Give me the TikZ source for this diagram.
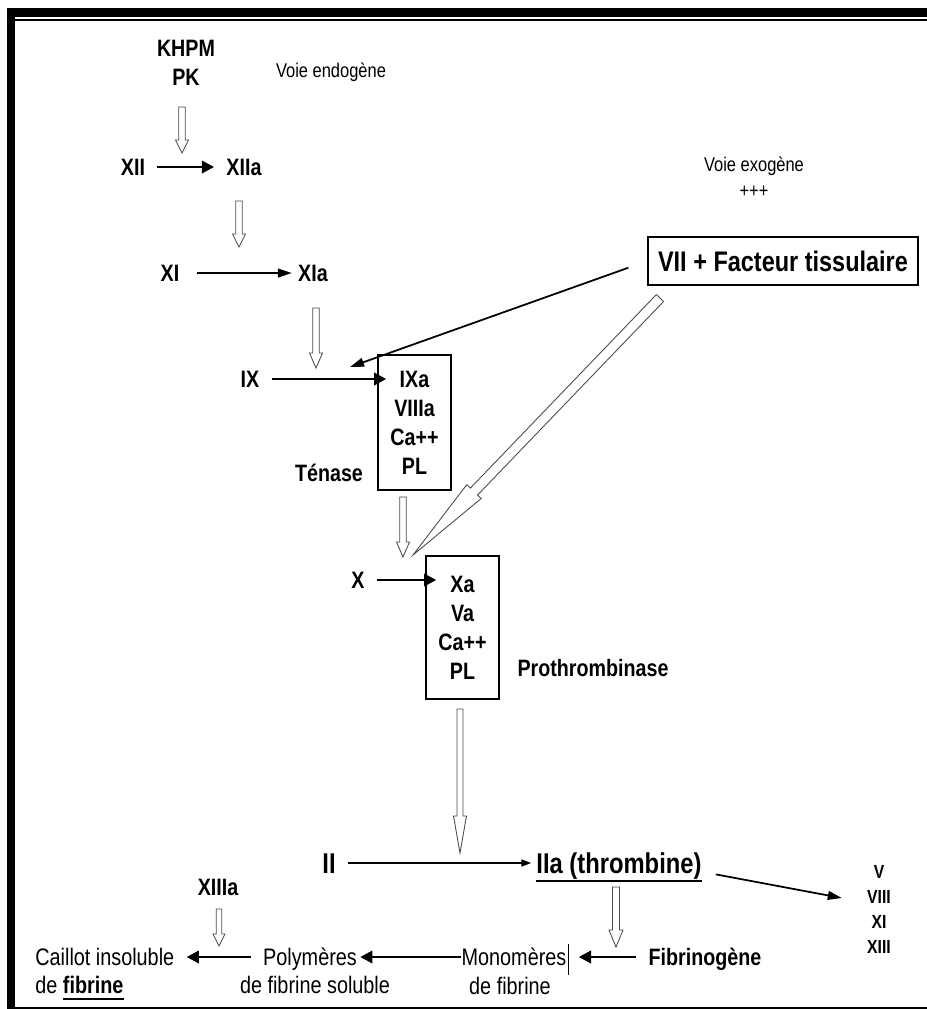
\documentclass[tikz,border=0pt]{standalone}
\usepackage{fontspec}
\setmainfont{Liberation Sans}[FakeStretch=0.83]
\usetikzlibrary{arrows.meta,calc}

\newsavebox\ulbox
\newcommand\thickul[2][4.2pt]{\sbox\ulbox{#2}\rlap{\rule[-#1]{\wd\ulbox}{1.1pt}}\usebox\ulbox}

% hollow arrow: shaft half width, head half width, head length (px), from, to
\newcommand\hollowarrow[5]{%
  \draw[hollow] let \p1=(#4), \p2=(#5),
    \n1={atan2(\y2-\y1,\x2-\x1)}, \n2={veclen(\x2-\x1,\y2-\y1)} in
    [shift={(\p1)}, rotate=\n1]
    (0pt,{-#1*0.569pt}) -- ({\n2-#3*0.569pt},{-#1*0.569pt})
    -- ({\n2-#3*0.569pt},{-#2*0.569pt}) -- ({\n2+0pt},0pt)
    -- ({\n2-#3*0.569pt},{#2*0.569pt}) -- ({\n2-#3*0.569pt},{#1*0.569pt})
    -- (0pt,{#1*0.569pt}) -- cycle;}

\begin{document}
\begin{tikzpicture}[x=0.02cm, y=-0.02cm,
    capht/.style={text height=#1, text depth=0pt},
    lab/.style={font=\fontsize{13.5}{16.5}\selectfont\bfseries, inner sep=0.24cm},
    big/.style={font=\fontsize{16.3}{16}\selectfont\bfseries, inner sep=0.24cm, capht=11.7pt},
    note/.style={font=\fontsize{11.3}{14.8}\selectfont, inner sep=0.24cm},
    txt/.style={font=\fontsize{13.6}{16}\selectfont, inner sep=0.24cm, capht=9.8pt},
    cplx/.style={draw, line width=0.8pt, align=center, minimum width=1.46cm, inner sep=0pt,
      font=\fontsize{13.5}{16.5}\selectfont\bfseries},
    flow/.style={-{Triangle[length=7pt,width=7pt]}, line width=1.6pt},
    flowmid/.style={-{Triangle[length=8pt,width=5pt]}, line width=1pt},
    flowthin/.style={-{Triangle[length=5.5pt,width=4pt]}, line width=0.6pt},
    hollow/.style={draw=black!70, line width=0.5pt, fill=white}]

    \useasboundingbox (0,0) rectangle (927,1009);

    % cadre
    \fill (7,8) rectangle (927,17);
    \fill (7,8) rectangle (15,1009);
    \draw[line width=0.6pt] (15,20) -- (927,20);
    \draw[line width=0.6pt] (15,1008) -- (927,1008);

    % voie endogene
    \node[lab, align=center] (khpm) at (186,62.5) {KHPM\\PK};
    \node[note, capht=8.1pt] (endo) at (331,70) {Voie endogène};
    \node[lab, capht=9.7pt] (xii) at (133,167) {XII};
    \node[lab, capht=9.7pt] (xiia) at (244,167) {XIIa};
    \node[lab, capht=9.7pt] (xi) at (170,273) {XI};
    \node[lab, capht=9.7pt] (xia) at (313,273) {XIa};
    \node[lab, capht=9.7pt] (ix) at (250,379) {IX};
    \node[cplx, minimum height=2.7cm] (tenase) at (414.5,422.5) {IXa\\VIIIa\\Ca++\\PL};
    \node[lab, capht=9.7pt] (tenlab) at (329,473) {Ténase};

    % voie exogene
    \node[note, align=center] (exo) at (754,177) {Voie exogène\\+++};
    \node[draw, line width=0.9pt, minimum width=5.4cm, minimum height=0.96cm,
      font=\fontsize{16.1}{16}\selectfont\bfseries, capht=11.5pt] (vii) at (783,261) {VII + Facteur tissulaire};

    % voie commune
    \node[lab, capht=9.7pt] (fx) at (358,580) {X};
    \node[cplx, minimum height=2.86cm] (proth) at (462.5,627.5) {Xa\\Va\\Ca++\\PL};
    \node[lab, capht=9.7pt] (prolab) at (593,668) {Prothrombinase};
    \node[big] (ii) at (329,863) {II};
    \node[big] (iia) at (619,863) {\thickul[4.8pt]{IIa (thrombine)}};
    \node[font=\fontsize{10.8}{14.2}\selectfont\bfseries, align=center, inner sep=0.24cm] (vlist) at (879,909.5) {V\\VIII\\XI\\XIII};

    % fibrine
    \node[lab, capht=9.7pt] (xiiia) at (218,887) {XIIIa};
    \node[lab, capht=9.7pt] (fib) at (705,957) {Fibrinogène};
    \node[txt] (mono) at (514,957) {Monomères};
    \node[txt] (monob) at (510,986) {de fibrine};
    \node[txt] (poly) at (310,957) {Polymères};
    \node[txt] (polyb) at (315,985) {de fibrine soluble};
    \node[txt, anchor=west] (caillot) at (23,957) {Caillot insoluble};
    \node[txt, anchor=west] (caillotb) at (23,985) {de \thickul[3.4pt]{\textbf{fibrine}}};

    % fleches pleines
    \draw[flow] (xii) -- (xiia);
    \draw[flowmid, shorten <=0.1cm, shorten >=-0.12cm] (xi) -- (xia);
    \draw[flow] (ix) -- ([xshift=0.18cm]ix -| tenase.west);
    \draw[flow] (fx) -- ([xshift=0.22cm]fx -| proth.west);
    \draw[flowthin, shorten >=-0.14cm] (ii) -- (ii -| iia.west);
    \draw[flowmid, shorten <=0.04cm] ([yshift=-0.22cm]iia.east) -- ([shift={(-0.26cm,0.23cm)}]vlist.west);
    \draw[flow] (fib) -- (mono);
    \draw[flow, shorten <=-0.24cm, shorten >=-0.18cm] (mono) -- (poly);
    \draw[flow] (poly) -- (caillot);
    \draw[line width=0.5pt] ([shift={(-0.2cm,-0.16cm)}]mono.north east) -- ([shift={(-0.2cm,0.06cm)}]mono.south east);

    \coordinate (ixhit) at (350,367);
    \draw[flowmid, shorten <=0.4cm] (vii.west) -- (ixhit);

    % fleches creuses
    \coordinate (c1) at (182,107);  \coordinate (d1) at (182,153);
    \coordinate (c2) at (239,201);  \coordinate (d2) at (239,247);
    \coordinate (c3) at (316,308);  \coordinate (d3) at (316,368);
    \coordinate (c4) at (403,497);  \coordinate (d4) at (403,557);
    \coordinate (c5) at (660,298);  \coordinate (d5) at (413,555);
    \coordinate (c6) at (460,709);  \coordinate (d6) at (460,853);
    \coordinate (c7) at (616,887);  \coordinate (d7) at (616,947);
    \coordinate (c8) at (219,909);  \coordinate (d8) at (219,946);
    \hollowarrow{3.3}{6.5}{13}{c1}{d1}
    \hollowarrow{3.3}{6.5}{13}{c2}{d2}
    \hollowarrow{3.3}{6.5}{15}{c3}{d3}
    \hollowarrow{3.3}{6.5}{15}{c4}{d4}
    \hollowarrow{5}{10}{88}{c5}{d5}
    \hollowarrow{3}{6.5}{37}{c6}{d6}
    \hollowarrow{3.5}{7}{17}{c7}{d7}
    \hollowarrow{2.7}{6}{12}{c8}{d8}

\end{tikzpicture}
\end{document}
